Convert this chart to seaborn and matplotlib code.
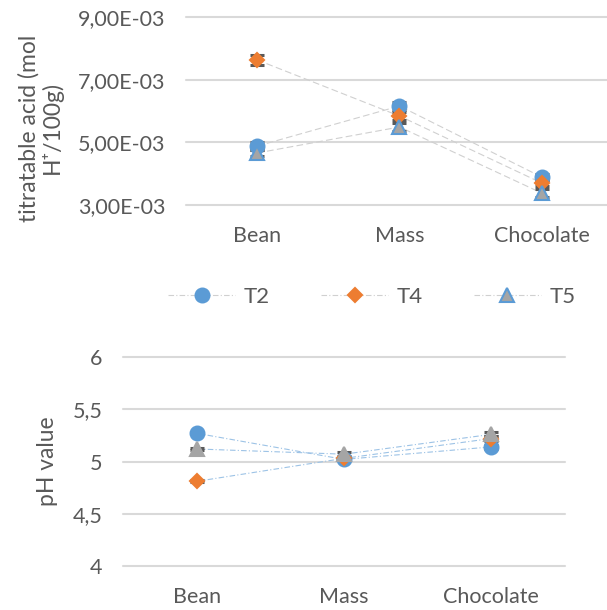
import numpy as np
import pandas as pd
import matplotlib
matplotlib.use("Agg")
import matplotlib.pyplot as plt
from matplotlib.lines import Line2D
from matplotlib.ticker import FixedLocator, FuncFormatter
import seaborn as sns

sns.set_theme(style="white")
plt.rcParams['font.family'] = ['Lato', 'DejaVu Sans']

categories = ["Bean", "Mass", "Chocolate"]
series = ["T2", "T4", "T5"]

# titratable acid (mol H+/100g)
acid_T2 = [4.88e-3, 6.16e-3, 3.89e-3]
acid_T4 = [7.63e-3, 5.84e-3, 3.70e-3]
acid_T5 = [4.66e-3, 5.49e-3, 3.38e-3]
acid_err_T2 = [0.12e-3, 0.12e-3, 0.10e-3]
acid_err_T4 = [0.15e-3, 0.12e-3, 0.10e-3]
acid_err_T5 = [0.10e-3, 0.12e-3, 0.12e-3]

# pH value
ph_T2 = [5.27, 5.02, 5.14]
ph_T4 = [4.81, 5.03, 5.22]
ph_T5 = [5.12, 5.07, 5.26]
ph_err_T2 = [0.01, 0.01, 0.02]
ph_err_T4 = [0.01, 0.01, 0.02]
ph_err_T5 = [0.01, 0.02, 0.02]

acid_ticks = [3e-3, 5e-3, 7e-3, 9e-3]
ph_ticks = [4, 4.5, 5, 5.5, 6]

blue = "#5B9BD5"
orange = "#ED7D31"
gray = "#A5A5A5"
txt = "#595959"
grid = "#D9D9D9"

styles = {
    "T2": dict(marker="o", color=blue, mec=blue),
    "T4": dict(marker="D", color=orange, mec=orange),
    "T5": dict(marker="^", color=gray, mec=blue),
}
msize = {"T2": 10, "T4": 7.5, "T5": 10}

def long_df(vals, errs):
    rows = []
    for s in series:
        for i, c in enumerate(categories):
            rows.append(dict(cat=c, series=s, val=vals[s][i], err=errs[s][i]))
    return pd.DataFrame(rows)

acid_df = long_df({"T2": acid_T2, "T4": acid_T4, "T5": acid_T5},
                  {"T2": acid_err_T2, "T4": acid_err_T4, "T5": acid_err_T5})
ph_df = long_df({"T2": ph_T2, "T4": ph_T4, "T5": ph_T5},
                {"T2": ph_err_T2, "T4": ph_err_T4, "T5": ph_err_T5})

W, H = 607, 610
fig = plt.figure(figsize=(W / 100, H / 100), dpi=100)
ax1 = fig.add_axes([186 / W, 1 - 205 / H, 427 / W, 188 / H])
ax2 = fig.add_axes([123 / W, 1 - 566 / H, 442 / W, 209 / H])

TICK_FS = 15.5

def draw(ax, df, line_color, line_style, tri_edge):
    for s in series:
        d = df[df.series == s]
        sns.lineplot(data=d, x="cat", y="val", ax=ax, color=line_color,
                     linestyle=line_style, linewidth=0.8, sort=False,
                     legend=False, errorbar=None)
    for s in series:
        d = df[df.series == s]
        xs = np.arange(len(categories))
        ax.errorbar(xs, d["val"].values, yerr=d["err"].values, fmt="none",
                    ecolor="#595959", elinewidth=1.2, capsize=5, capthick=2.2,
                    zorder=3)
    for s in series:
        d = df[df.series == s]
        st = styles[s]
        mec = st["mec"] if s != "T5" else tri_edge
        ax.plot(np.arange(len(categories)), d["val"].values, linestyle="none",
                marker=st["marker"], markersize=msize[s], color=st["color"],
                markeredgecolor=mec, markeredgewidth=1.5, zorder=4)
    ax.set_xlim(-0.5, len(categories) - 0.5)
    ax.set_xlabel("")
    for sp in ax.spines.values():
        sp.set_visible(False)
    ax.grid(False)
    ax.tick_params(axis="both", length=0, labelsize=TICK_FS, colors=txt, pad=15)

draw(ax1, acid_df, "#D0D0D0", (0, (6, 3)), blue)
ax1.set_ylim(acid_ticks[0], acid_ticks[-1])
ax1.yaxis.set_major_locator(FixedLocator(acid_ticks))
ax1.yaxis.set_major_formatter(FuncFormatter(lambda v, p: f"{v:.2E}".replace(".", ",")))
for t in acid_ticks:
    ax1.axhline(t, color=grid, lw=1.5, zorder=0, clip_on=False)
ax1.set_ylabel("titratable acid (mol\nH⁺/100g)", fontsize=16.5, color=txt,
               linespacing=1.05)
ax1.yaxis.set_label_coords(-0.288, 0.41)

draw(ax2, ph_df, "#9DC3E6", (0, (5, 2, 1, 2)), gray)
ax2.set_ylim(ph_ticks[0], ph_ticks[-1])
ax2.yaxis.set_major_locator(FixedLocator(ph_ticks))
ax2.yaxis.set_major_formatter(FuncFormatter(lambda v, p: f"{v:g}".replace(".", ",")))
for t in ph_ticks:
    ax2.axhline(t, color=grid, lw=1.5, zorder=0, clip_on=False)
ax2.set_ylabel("pH value", fontsize=16.5, color=txt)
ax2.yaxis.set_label_coords(-0.147, 0.5)

handles = []
for s in series:
    st = styles[s]
    handles.append(Line2D([], [], color="#D0D0D0", linestyle=(0, (5, 2, 1, 2)),
                          linewidth=0.8, marker=st["marker"],
                          markersize=msize[s], markerfacecolor=st["color"],
                          markeredgecolor=st["mec"], markeredgewidth=1.5))
leg = fig.legend(handles, series, loc="center", bbox_to_anchor=(0.613, 1 - 297 / H),
                 ncol=3, frameon=False, fontsize=16, handlelength=3.0,
                 columnspacing=2.3, handletextpad=0.4, borderpad=0)
for t in leg.get_texts():
    t.set_color(txt)

fig.savefig("out.png", dpi=100)
